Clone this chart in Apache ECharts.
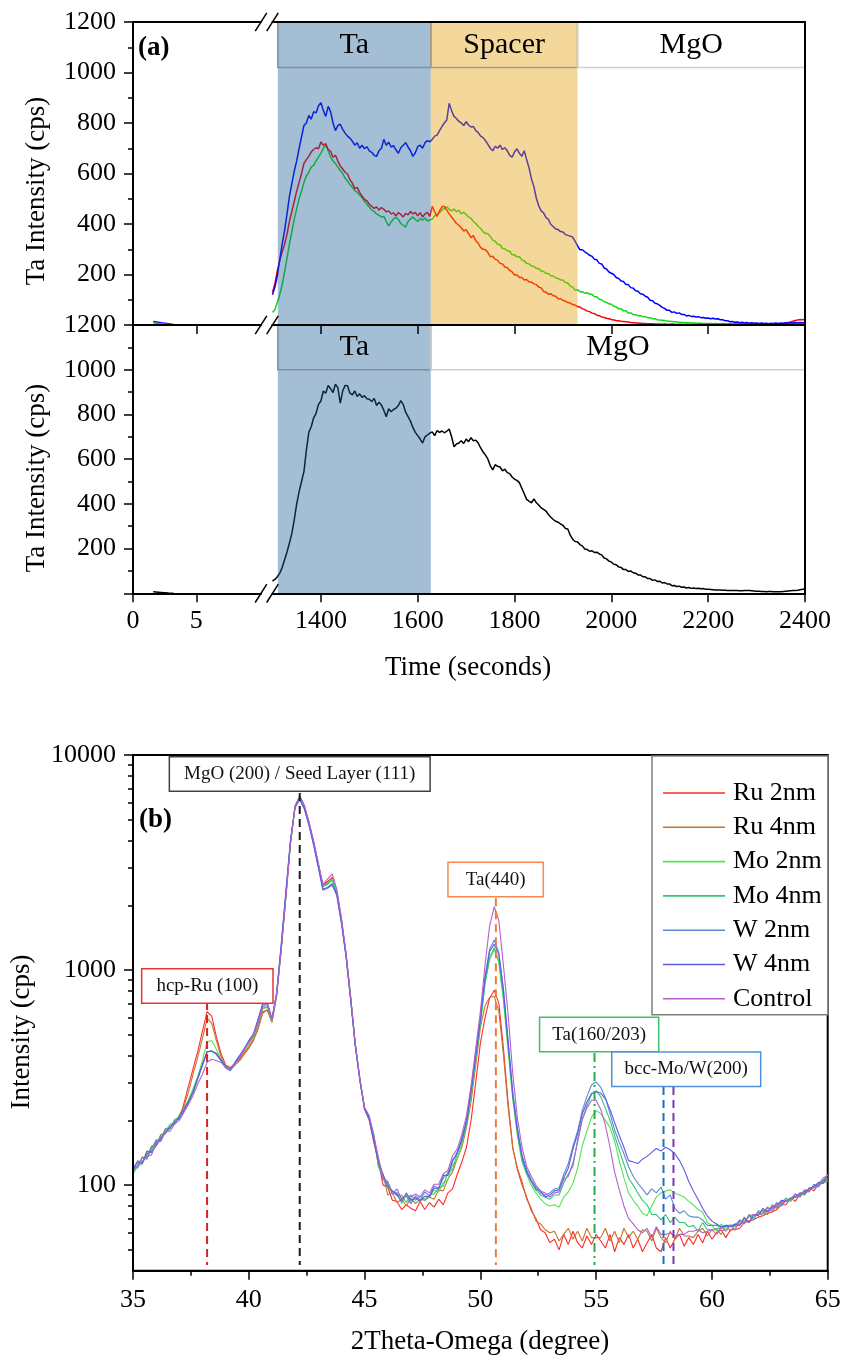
<!DOCTYPE html>
<html>
<head>
<meta charset="utf-8">
<script src="https://cdn.jsdelivr.net/npm/echarts@6/dist/echarts.min.js"></script>
<style>
  html, body { margin: 0; padding: 0; background: #fff; }
  #chart { width: 842px; height: 1365px; }
</style>
</head>
<body>
<div id="chart"></div>
<script>
// ---------- (a) depth profiles: Ta intensity vs sputter time ----------
const timeSec = [
  1300,1305,1310,1315,1320,1325,1330,1335,1340,1345,1350,1355,1360,1365,1370,1375,1380,1385,1390,1395,
  1400,1405,1410,1415,1420,1425,1430,1435,1440,1445,1450,1455,1460,1465,1470,1475,1480,1485,1490,1495,
  1500,1505,1510,1515,1520,1525,1530,1535,1540,1545,1550,1555,1560,1565,1570,1575,1580,1585,1590,1595,
  1600,1605,1610,1615,1620,1625,1630,1635,1640,1645,1650,1655,1660,1665,1670,1675,1680,1685,1690,1695,
  1700,1705,1710,1715,1720,1725,1730,1735,1740,1745,1750,1755,1760,1765,1770,1775,1780,1785,1790,1795,
  1800,1805,1810,1815,1820,1825,1830,1835,1840,1845,1850,1855,1860,1865,1870,1875,1880,1885,1890,1895,
  1900,1905,1910,1915,1920,1925,1930,1935,1940,1945,1950,1955,1960,1965,1970,1975,1980,1985,1990,1995,
  2000,2005,2010,2015,2020,2025,2030,2035,2040,2045,2050,2055,2060,2065,2070,2075,2080,2085,2090,2095,
  2100,2105,2110,2115,2120,2125,2130,2135,2140,2145,2150,2155,2160,2165,2170,2175,2180,2185,2190,2195,
  2200,2205,2210,2215,2220,2225,2230,2235,2240,2245,2250,2255,2260,2265,2270,2275,2280,2285,2290,2295,
  2300,2305,2310,2315,2320,2325,2330,2335,2340,2345,2350,2355,2360,2365,2370,2375,2380,2385,2390,2395,
  2400
];

const taBlue = [
  120,150,195,260,320,375,440,510,560,610,650,700,745,790,800,830,815,845,840,868,
  880,850,826,866,845,800,770,790,795,775,760,748,740,728,712,722,700,712,698,706,
  690,684,672,668,690,700,735,712,724,705,710,694,680,702,712,722,705,690,668,682,
  706,712,700,722,730,726,735,748,752,770,786,800,812,878,848,826,818,806,800,790,
  805,792,784,786,770,762,748,742,730,715,700,690,708,700,712,695,702,690,672,665,
  685,698,680,668,690,655,622,578,548,502,472,452,444,425,418,398,390,380,378,370,
  368,358,355,352,348,332,314,298,298,290,284,276,272,260,258,244,242,226,222,210,
  205,200,188,184,174,172,160,160,148,146,136,134,124,122,114,110,98,96,86,84,
  78,70,66,58,58,50,52,46,48,42,42,36,38,34,35,32,33,29,30,27,
  28,25,27,24,25,21,21,17,17,13,14,11,12,9,11,8,10,7,9,7,
  8,6,8,6,7,5,7,6,8,6,8,7,9,7,9,8,10,8,10,9,
  10
];

const taRed = [
  130,165,215,255,290,320,360,410,450,490,530,565,600,640,655,668,685,695,702,698,
  725,712,718,695,688,665,672,650,630,618,605,598,575,562,540,545,525,510,498,492,
  478,470,462,468,455,465,458,448,452,440,444,432,445,438,428,442,436,450,440,446,
  432,445,428,440,446,430,470,448,430,452,468,470,455,440,428,415,402,395,385,372,
  378,362,346,354,333,324,306,300,298,287,270,272,260,257,244,242,230,227,216,210,
  198,198,188,188,178,180,170,170,163,160,150,147,133,130,122,124,116,114,104,104,
  97,95,89,87,81,79,73,71,65,61,55,53,47,45,39,37,32,30,27,25,
  22,20,18,17,15,14,13,12,10,9,8,8,7,6,6,5,5,5,4,4,
  4,3,4,3,3,4,3,2,3,3,2,3,2,2,3,2,2,3,2,2,
  2,3,2,2,3,2,3,2,2,3,2,3,3,2,3,3,2,3,3,3,
  3,3,4,3,3,4,3,4,4,5,5,6,8,10,12,15,18,20,22,21,
  22
];

const taGreen = [
  50,60,90,120,160,210,265,320,370,420,460,500,530,565,590,605,625,632,650,665,
  680,700,712,690,665,650,640,625,612,600,582,570,556,545,532,525,515,505,490,478,
  466,455,450,440,434,428,430,410,392,408,420,426,418,402,395,388,410,420,428,418,
  410,422,415,424,412,416,420,432,438,445,455,462,468,458,452,460,448,455,440,446,
  438,428,422,410,402,390,382,370,362,362,350,336,332,320,318,303,302,294,292,278,
  278,270,270,258,254,244,242,234,232,224,224,214,212,204,204,194,194,186,184,178,
  178,168,166,154,150,138,140,132,132,126,128,122,122,112,112,102,100,92,90,84,
  82,74,72,64,64,56,56,48,48,41,41,37,37,33,33,29,29,25,25,21,
  20,19,18,16,15,14,13,12,11,10,10,9,9,8,8,7,7,7,6,6,
  6,6,5,6,5,5,6,5,5,5,4,5,5,4,5,4,4,5,4,4,
  4,4,5,4,4,5,4,4,5,5,4,5,5,5,4,5,5,5,5,5,
  5
];

const taBlack = [
  55,62,74,90,115,150,185,225,268,330,400,455,500,545,640,720,745,785,805,845,
  860,905,895,930,915,898,935,920,850,905,930,928,895,888,905,880,892,876,884,870,
  868,858,872,840,855,842,818,790,825,812,822,828,840,862,845,810,790,770,742,720,
  705,690,672,700,708,716,722,705,728,720,726,718,725,735,700,655,668,672,682,670,
  690,678,696,682,685,672,650,632,618,600,570,552,575,568,565,548,555,540,535,520,
  510,505,495,470,445,420,412,405,422,405,395,382,375,368,352,340,330,322,318,310,
  304,290,288,260,242,232,230,218,212,198,196,188,190,183,184,176,172,158,154,144,
  140,130,128,118,116,106,106,98,100,92,90,82,82,74,74,66,66,58,60,53,
  54,46,48,42,42,34,35,30,32,27,28,24,26,22,24,21,23,20,21,18,
  18,17,16,15,15,15,14,14,13,13,12,12,12,11,11,12,12,12,11,10,
  9,9,8,8,7,8,8,7,7,7,7,8,9,10,11,12,13,14,16,18,
  18
];

// the few points recorded in the first seconds (left of the axis break)
const earlyTime = [1.6, 2.2, 2.8, 3.2];
const earlyBlue = [14, 9, 5, 2];
const earlyGreen = [8, 5, 2, 0];
const earlyBlack = [7, 4, 1, 0];

// layer bands: edges in seconds
const layerEdgesTop = [1311, 1627, 1930, 2400];
const layerNamesTop = ['Ta', 'Spacer', 'MgO'];
const layerEdgesBottom = [1311, 1627, 2400];
const layerNamesBottom = ['Ta', 'MgO'];
const headerFloorTop = 1020;
const headerFloorBottom = 1000;

const timeTicksLeft = [0, 5];
const timeTicksRight = [1400, 1600, 1800, 2000, 2200, 2400];

// ---------- (b) XRD 2theta-omega scans ----------
const twoTheta = [
  35,35.2,35.4,35.6,35.8,36,36.2,36.4,36.6,36.8,37,37.2,
  37.4,37.6,37.8,38,38.2,38.4,38.6,38.8,39,39.2,
  39.4,39.6,39.8,40,40.2,40.4,40.6,40.8,41,41.2,
  41.4,41.6,41.8,42,42.2,42.4,42.6,42.8,43,
  43.2,43.4,43.6,43.8,44,44.2,44.4,44.6,44.8,45,
  45.2,45.4,45.6,45.8,46,46.2,46.4,46.6,46.8,47,
  47.2,47.4,47.6,47.8,48,48.2,48.4,48.6,48.8,49,
  49.2,49.4,49.6,49.8,50,50.2,50.4,50.6,50.8,51,
  51.2,51.4,51.6,51.8,52,52.2,52.4,52.6,52.8,53,
  53.2,53.4,53.6,53.8,54,54.2,54.4,54.6,54.8,55,
  55.2,55.4,55.6,55.8,56,56.2,56.4,56.6,56.8,57,
  57.2,57.4,57.6,57.8,58,58.2,58.4,58.6,58.8,59,
  59.2,59.4,59.6,59.8,60,60.2,60.4,60.6,60.8,61,
  61.2,61.4,61.6,61.8,62,62.2,62.4,62.6,62.8,63,
  63.2,63.4,63.6,63.8,64,64.2,64.4,64.6,64.8,65
];

const ru2nm = [
  120,128,127,140,143,160,164,183,184,200,203,240,
  290,350,420,520,640,610,490,410,362,352,
  368,385,412,440,475,540,640,650,575,760,
  1240,2180,3880,5800,6420,5780,4820,3920,3120,
  2480,2580,2700,2320,1720,1190,745,452,308,226,
  200,158,128,100,98,85,84,77,81,78,
  76,84,77,83,79,86,81,92,96,112,
  128,150,200,300,456,600,740,805,700,430,
  240,150,118,100,88,76,70,62,60,54,
  56,50,59,53,61,54,51,58,53,59,
  55,51,59,49,57,53,59,51,56,49,
  54,59,51,49,57,51,56,59,52,57,
  53,59,54,61,56,60,62,57,62,62,
  63,67,68,69,71,72,74,75,77,81,
  81,87,84,91,90,97,94,101,102,106
];
const ru4nm = [
  118,122,135,134,152,153,172,174,192,194,212,232,
  272,330,395,480,598,565,470,395,358,350,
  362,378,405,432,470,530,630,655,570,750,
  1250,2200,3900,5820,6400,5760,4800,3900,3100,
  2460,2540,2660,2300,1700,1180,740,450,310,228,
  206,168,122,112,90,92,83,86,80,87,
  82,86,85,88,86,95,94,107,115,133,
  150,185,245,360,540,680,745,755,640,400,
  230,148,120,104,86,78,68,66,62,60,
  61,55,59,63,56,61,55,63,57,57,
  57,63,55,61,54,63,57,61,56,62,
  61,55,63,57,54,61,56,63,58,58,
  57,61,63,58,62,62,59,65,61,66,
  65,71,67,73,73,77,73,81,78,84,
  84,85,88,89,93,94,98,99,105,111
];
const mo2nm = [
  112,123,125,142,144,162,162,180,190,196,210,226,
  250,282,320,380,464,470,428,385,358,346,
  365,392,420,452,488,560,660,672,580,765,
  1260,2210,3920,5780,6380,5740,4810,3910,3110,
  2450,2520,2640,2300,1700,1180,740,450,310,228,
  204,164,130,110,103,93,92,82,90,84,
  88,85,87,88,95,93,103,106,125,131,
  155,190,262,380,560,860,1120,1250,1080,720,
  420,250,170,128,112,100,92,86,82,80,
  81,79,88,93,102,120,152,178,207,222,
  215,200,185,160,130,108,92,85,80,74,
  72,80,88,92,94,95,92,90,88,84,
  81,77,75,67,65,61,66,62,65,65,
  68,68,71,72,73,74,79,76,82,81,
  84,86,89,90,91,94,99,101,102,104
];
const mo4nm = [
  116,130,127,137,150,155,170,176,183,202,206,222,
  245,276,318,362,418,420,408,380,352,342,
  360,395,425,458,492,565,665,678,585,770,
  1270,2230,3940,5760,6360,5720,4780,3890,3090,
  2440,2500,2620,2290,1690,1170,735,448,308,227,
  208,172,122,108,97,94,89,90,83,90,
  85,89,85,90,91,97,99,115,118,140,
  158,192,265,385,565,870,1140,1270,1100,740,
  440,258,175,132,114,104,95,90,88,86,
  90,90,102,113,122,163,202,233,264,275,
  258,228,200,170,145,125,108,100,92,85,
  81,73,73,69,73,67,71,67,67,64,
  65,61,67,62,62,63,63,65,65,64,
  66,67,72,69,75,72,78,78,79,83,
  87,84,91,88,94,96,97,102,106,108
];
const w2nm = [
  122,120,134,132,148,162,160,182,184,197,206,220,
  242,272,312,360,415,422,404,378,350,340,
  372,400,432,466,500,585,690,700,590,775,
  1320,2320,4020,5700,6200,5600,4700,3800,3000,
  2350,2400,2480,2220,1650,1150,720,440,305,225,
  202,166,132,106,104,91,92,87,89,82,
  89,85,93,89,99,97,108,113,131,139,
  165,200,280,410,600,930,1250,1380,1200,810,
  470,270,185,138,118,106,98,92,90,92,
  96,97,112,126,152,178,222,258,292,302,
  285,255,215,180,158,140,122,110,102,96,
  90,96,92,98,86,90,78,74,76,72,
  71,71,69,65,65,65,64,64,65,65,
  69,66,73,70,76,75,76,78,83,80,
  85,87,88,91,94,93,101,98,105,106
];
const w4nm = [
  119,128,126,144,142,152,166,174,186,194,208,225,
  246,270,315,365,418,418,410,382,356,345,
  370,398,428,470,505,590,700,705,595,780,
  1300,2280,3980,5720,6250,5650,4740,3840,3040,
  2380,2420,2520,2250,1670,1160,730,445,306,226,
  206,160,129,112,99,94,90,84,92,85,
  87,84,89,88,97,96,111,111,129,142,
  162,198,275,400,590,910,1220,1320,1180,800,
  460,265,180,135,115,104,96,94,88,90,
  94,95,108,120,147,173,214,243,267,272,
  268,252,225,195,170,150,130,128,126,132,
  136,142,148,144,150,146,140,130,118,104,
  94,86,78,72,68,66,64,65,64,66,
  65,70,67,73,72,78,75,79,80,85,
  84,87,88,92,91,97,98,103,102,112
];
const control = [
  115,124,129,136,138,158,160,177,178,192,200,218,
  238,262,296,328,372,385,380,372,355,342,
  366,390,430,462,498,570,675,695,588,770,
  1240,2150,3860,5760,6460,5850,4900,4000,3160,
  2500,2650,2800,2380,1750,1200,750,455,312,230,
  210,170,134,108,102,91,96,86,90,88,
  91,88,95,92,101,101,113,117,137,147,
  172,210,290,430,640,1050,1600,1970,1700,1040,
  620,330,205,150,122,110,100,94,92,88,
  92,93,106,110,127,158,202,228,248,248,
  225,190,150,115,95,80,70,66,62,60,
  63,57,64,59,59,60,58,59,59,61,
  61,62,60,61,62,59,64,61,65,62,
  68,67,72,73,73,74,79,75,81,82,
  85,86,91,88,95,94,98,100,108,111
];

const xrdNames = ['Ru 2nm', 'Ru 4nm', 'Mo 2nm', 'Mo 4nm', 'W 2nm', 'W 4nm', 'Control'];
const xrdValues = [ru2nm, ru4nm, mo2nm, mo4nm, w2nm, w4nm, control];
const xrdColors = ['#ff2b2b', '#c4742f', '#52e452', '#2fc873', '#5f86d8', '#5b5be6', '#b45fd0'];

// reference peak positions (degrees) with the span of each guide line (cps)
const guideAngles = [38.2, 42.2, 50.67, 54.93, 57.91, 58.34];
const guideTops = [710, 6650, 2160, 411, 286, 286];
const guideFloor = 42.5;
const guideColors = ['#d42222', '#1a1a1a', '#f07a3a', '#22b04a', '#1f6fbf', '#7a35b8'];
const guideDash = [[8, 5], [8, 5], [8, 5], [9, 4, 2, 4], [8, 5], [8, 5]];

const peakLabels = ['hcp-Ru (100)', 'MgO (200) / Seed Layer (111)', 'Ta(440)', 'Ta(160/203)', 'bcc-Mo/W(200)'];
const peakLabelAt = [[38.21, 843], [42.2, 8158], [50.66, 2636], [55.13, 501], [58.89, 346]];
const peakLabelColors = ['#e53535', '#404040', '#f5894f', '#3cc070', '#4b93d6'];
const peakLabelPad = [[7, 14], [7, 14], [7, 17], [7, 12], [7, 12]];

const logMajor = [100, 1000, 10000];
const logMinor = [50, 60, 70, 80, 90, 200, 300, 400, 500, 600, 700, 800, 900,
                  2000, 3000, 4000, 5000, 6000, 7000, 8000, 9000];

// ---------- drawing ----------
const FONT = "'Liberation Serif', 'Times New Roman', serif";
const pair = (xs, ys) => ys.map((v, i) => [xs[i], v]);

const G = {
  left: 133, leftW: 128, rightX: 272.5, rightW: 532.5,
  topA: 22, hTop: 303, midA: 325, hBot: 268.3,
  topB: 755, wB: 694.7, hB: 515.7
};
const LEFT_MAX = 10.11;

const black2 = { color: '#000', width: 2 };
const tickStyle = { color: '#000', width: 1.5 };
const labelStyle = { fontFamily: FONT, fontSize: 26, color: '#000' };

function lineOnlyX(gridIndex, position, min, max) {
  return {
    type: 'value', gridIndex, position, min, max, z: 10,
    axisLine: { show: true, onZero: false, lineStyle: black2 },
    axisTick: { show: false }, axisLabel: { show: false }, splitLine: { show: false }
  };
}
function timeAxis(gridIndex, min, max, ticks, labels) {
  return {
    type: 'value', gridIndex, position: 'bottom', min, max, z: 10,
    axisLine: { show: true, onZero: false, lineStyle: black2 },
    axisTick: { show: true, inside: false, length: 9, customValues: ticks, lineStyle: tickStyle },
    axisLabel: labels
      ? Object.assign({ show: true, customValues: labels, margin: 15, formatter: v => String(v) }, labelStyle)
      : { show: false },
    splitLine: { show: false }
  };
}
function intensityAxis(gridIndex) {
  return {
    type: 'value', gridIndex, position: 'left', min: 0, max: 1200, interval: 200, z: 10,
    axisLine: { show: true, onZero: false, lineStyle: black2 },
    axisTick: { show: true, inside: false, length: 9, lineStyle: tickStyle },
    minorTick: { show: true, splitNumber: 2, length: 5, lineStyle: tickStyle },
    axisLabel: Object.assign({ margin: 17, formatter: v => (v === 0 ? '' : String(v)) }, labelStyle),
    splitLine: { show: false }, minorSplitLine: { show: false }
  };
}
function rightEdgeY(gridIndex) {
  return {
    type: 'value', gridIndex, position: 'right', min: 0, max: 1200, z: 10,
    axisLine: { show: true, onZero: false, lineStyle: black2 },
    axisTick: { show: false }, axisLabel: { show: false }, splitLine: { show: false }
  };
}

function lineSeries(name, x, y, xi, yi, color, width) {
  return {
    type: 'line', name, xAxisIndex: xi, yAxisIndex: yi, data: pair(x, y),
    symbol: 'none', showSymbol: false, silent: true, z: 2,
    lineStyle: { color, width }, itemStyle: { color }
  };
}

const bandFill = {
  Ta: 'rgba(25,92,150,0.4)',
  Spacer: 'rgba(228,158,5,0.4)',
  MgO: 'rgba(255,255,255,0)'
};
const headerStroke = { Ta: '#7f8fa0', Spacer: '#a89c82', MgO: '#cfcfcf' };

function layerData(edges) {
  return edges.slice(0, -1).map((e, i) => [e, edges[i + 1], i]);
}
function bandSeries(xi, yi, edges, names) {
  return {
    type: 'custom', xAxisIndex: xi, yAxisIndex: yi, z: 5, silent: true,
    data: layerData(edges),
    renderItem: (params, api) => {
      const a = api.coord([api.value(0), 1200]);
      const b = api.coord([api.value(1), 0]);
      return {
        type: 'rect',
        shape: { x: a[0], y: a[1], width: b[0] - a[0], height: b[1] - a[1] },
        style: { fill: bandFill[names[api.value(2)]] }
      };
    }
  };
}
function headerSeries(xi, yi, edges, names, floor) {
  return {
    type: 'custom', xAxisIndex: xi, yAxisIndex: yi, z: 6, silent: true,
    data: layerData(edges),
    renderItem: (params, api) => {
      const name = names[api.value(2)];
      const a = api.coord([api.value(0), 1200]);
      const b = api.coord([api.value(1), floor]);
      return {
        type: 'group',
        children: [
          {
            type: 'rect',
            shape: { x: a[0], y: a[1], width: b[0] - a[0], height: b[1] - a[1] },
            style: { fill: 'none', stroke: headerStroke[name], lineWidth: 1.5 }
          },
          {
            type: 'text', x: (a[0] + b[0]) / 2, y: (a[1] + b[1]) / 2,
            style: { text: name, font: '30px ' + FONT, fill: '#000', align: 'center', verticalAlign: 'middle' }
          }
        ]
      };
    }
  };
}

const series = [
  // (a) upper profiles
  lineSeries('early-blue', earlyTime, earlyBlue, 0, 0, '#0000ff', 1.5),
  lineSeries('early-green', earlyTime, earlyGreen, 0, 0, '#14d814', 1.5),
  lineSeries('ta-green', timeSec, taGreen, 2, 1, '#14d814', 1.5),
  lineSeries('ta-red', timeSec, taRed, 2, 1, '#ff0000', 1.5),
  lineSeries('ta-blue', timeSec, taBlue, 2, 1, '#0000ff', 1.5),
  bandSeries(2, 1, layerEdgesTop, layerNamesTop),
  headerSeries(2, 1, layerEdgesTop, layerNamesTop, headerFloorTop),
  // (a) lower profile
  lineSeries('early-black', earlyTime, earlyBlack, 4, 2, '#000', 1.5),
  lineSeries('ta-black', timeSec, taBlack, 6, 3, '#000', 1.5),
  bandSeries(6, 3, layerEdgesBottom, layerNamesBottom),
  headerSeries(6, 3, layerEdgesBottom, layerNamesBottom, headerFloorBottom)
];

// (b) scans
xrdNames.forEach((n, i) => {
  series.push(lineSeries(n, twoTheta, xrdValues[i], 8, 4, xrdColors[i], 1.1));
});
guideAngles.forEach((a, i) => {
  series.push({
    type: 'line', name: 'guide-' + i, xAxisIndex: 8, yAxisIndex: 4,
    data: [[a, guideTops[i]], [a, guideFloor]], symbol: 'none', silent: true, z: 3,
    lineStyle: { color: guideColors[i], width: 2, type: guideDash[i] }
  });
});
series.push({
  type: 'custom', xAxisIndex: 8, yAxisIndex: 4, z: 4, silent: true,
  data: peakLabelAt.map((p, i) => [p[0], p[1], i]),
  renderItem: (params, api) => {
    const i = api.value(2);
    const c = api.coord([api.value(0), api.value(1)]);
    return {
      type: 'text', x: c[0], y: c[1],
      style: {
        text: peakLabels[i], font: '19px ' + FONT, fill: '#111',
        align: 'center', verticalAlign: 'middle', lineHeight: 19,
        padding: peakLabelPad[i], backgroundColor: '#fff',
        borderColor: peakLabelColors[i], borderWidth: 1.5
      }
    };
  }
});

// axis-break marks
function breakMarks(y) {
  const s = { stroke: '#000', lineWidth: 1.5 };
  const a = G.left + G.leftW, b = G.rightX;
  return [
    { type: 'line', shape: { x1: a - 5.8, y1: y + 9.2, x2: a + 5.8, y2: y - 9.2 }, style: s, z: 20 },
    { type: 'line', shape: { x1: b - 5.8, y1: y + 9.2, x2: b + 5.8, y2: y - 9.2 }, style: s, z: 20 }
  ];
}

const option = {
  animation: false,
  backgroundColor: '#fff',
  grid: [
    { left: G.left, top: G.topA, width: G.leftW, height: G.hTop, outerBoundsMode: 'none' },
    { left: G.rightX, top: G.topA, width: G.rightW, height: G.hTop, outerBoundsMode: 'none' },
    { left: G.left, top: G.midA, width: G.leftW, height: G.hBot, outerBoundsMode: 'none' },
    { left: G.rightX, top: G.midA, width: G.rightW, height: G.hBot, outerBoundsMode: 'none' },
    { left: G.left, top: G.topB, width: G.wB, height: G.hB, outerBoundsMode: 'none',
      show: true, borderColor: '#000', borderWidth: 2, backgroundColor: 'transparent' }
  ],
  xAxis: [
    timeAxis(0, 0, LEFT_MAX, [5], null),
    lineOnlyX(0, 'top', 0, LEFT_MAX),
    timeAxis(1, 1300, 2400, timeTicksRight.slice(0, -1), null),
    lineOnlyX(1, 'top', 1300, 2400),
    timeAxis(2, 0, LEFT_MAX, timeTicksLeft, timeTicksLeft),
    lineOnlyX(2, 'top', 0, LEFT_MAX),
    timeAxis(3, 1300, 2400, timeTicksRight, timeTicksRight),
    lineOnlyX(3, 'top', 1300, 2400),
    {
      type: 'value', gridIndex: 4, position: 'bottom', min: 35, max: 65, interval: 5, z: 10,
      axisLine: { show: true, onZero: false, lineStyle: black2 },
      axisTick: { show: true, inside: false, length: 9, lineStyle: tickStyle },
      minorTick: { show: true, splitNumber: 2, length: 5, lineStyle: tickStyle },
      axisLabel: Object.assign({ margin: 16, formatter: v => String(v) }, labelStyle),
      splitLine: { show: false }, minorSplitLine: { show: false }
    }
  ],
  yAxis: [
    intensityAxis(0),
    rightEdgeY(1),
    intensityAxis(2),
    rightEdgeY(3),
    {
      type: 'log', logBase: 10, gridIndex: 4, position: 'left', min: 40, max: 10000, z: 10,
      axisLine: { show: true, onZero: false, lineStyle: black2 },
      axisTick: { show: true, inside: false, length: 9, customValues: logMajor, lineStyle: tickStyle },
      axisLabel: Object.assign({ margin: 17, customValues: logMajor, formatter: v => String(Math.round(v)) }, labelStyle),
      splitLine: { show: false }
    },
    {
      type: 'log', logBase: 10, gridIndex: 4, position: 'left', min: 40, max: 10000, z: 10,
      axisLine: { show: false, onZero: false },
      axisTick: { show: true, inside: false, length: 5, customValues: logMinor, lineStyle: tickStyle },
      axisLabel: { show: false },
      splitLine: { show: false }
    }
  ],
  legend: {
    data: xrdNames, orient: 'vertical', left: 652, top: 756,
    padding: [24, 6, 3, 11], itemGap: 8.3, itemWidth: 62, itemHeight: 1.6,
    icon: 'rect',
    borderColor: '#7f7f7f', borderWidth: 1.5, backgroundColor: '#fff',
    selectedMode: false,
    textStyle: { fontFamily: FONT, fontSize: 26, color: '#000', lineHeight: 26, padding: [0, 0, 0, 3] }
  },
  graphic: [
    { type: 'text', x: 138, y: 48, z: 20,
      style: { text: '(a)', font: 'bold 27px ' + FONT, fill: '#000', verticalAlign: 'middle' } },
    { type: 'text', x: 139, y: 820, z: 20,
      style: { text: '(b)', font: 'bold 27px ' + FONT, fill: '#000', verticalAlign: 'middle' } },
    { type: 'text', x: 37, y: 191, rotation: Math.PI / 2, z: 20,
      style: { text: 'Ta Intensity (cps)', font: '27px ' + FONT, fill: '#000', align: 'center', verticalAlign: 'middle' } },
    { type: 'text', x: 37, y: 478, rotation: Math.PI / 2, z: 20,
      style: { text: 'Ta Intensity (cps)', font: '27px ' + FONT, fill: '#000', align: 'center', verticalAlign: 'middle' } },
    { type: 'text', x: 468, y: 668, z: 20,
      style: { text: 'Time (seconds)', font: '27px ' + FONT, fill: '#000', align: 'center', verticalAlign: 'middle' } },
    { type: 'text', x: 22, y: 1032, rotation: Math.PI / 2, z: 20,
      style: { text: 'Intensity (cps)', font: '27px ' + FONT, fill: '#000', align: 'center', verticalAlign: 'middle' } },
    { type: 'text', x: 480, y: 1342, z: 20,
      style: { text: '2Theta-Omega (degree)', font: '27px ' + FONT, fill: '#000', align: 'center', verticalAlign: 'middle' } }
  ].concat(breakMarks(G.topA), breakMarks(G.midA), breakMarks(G.midA + G.hBot)),
  series
};

const chart = echarts.init(document.getElementById('chart'));
chart.setOption(option);
</script>
</body>
</html>
